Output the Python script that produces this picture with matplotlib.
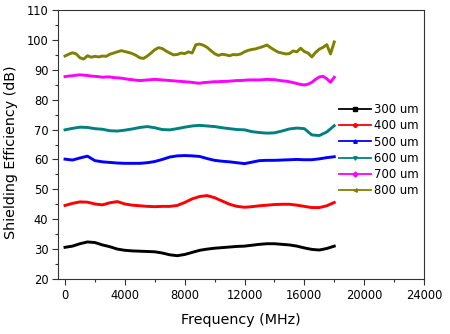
import matplotlib
matplotlib.use("Agg")
import matplotlib.pyplot as plt
from matplotlib.lines import Line2D
from matplotlib.ticker import MultipleLocator

freq = [i * 500 for i in range(37)]
freq_fine = [i * 250 for i in range(73)]

se_300 = [30.6, 31.0, 31.8, 32.4, 32.2, 31.4, 30.8, 30.0, 29.6, 29.4, 29.3, 29.2, 29.1,
          28.7, 28.1, 27.8, 28.2, 28.9, 29.6, 30.0, 30.3, 30.5, 30.7, 30.9, 31.0, 31.3,
          31.6, 31.8, 31.8, 31.6, 31.4, 31.0, 30.4, 29.9, 29.7, 30.2, 31.0]
se_400 = [44.6, 45.3, 45.8, 45.7, 45.1, 44.8, 45.5, 45.9, 45.1, 44.7, 44.5, 44.3, 44.2,
          44.3, 44.3, 44.6, 45.6, 46.8, 47.6, 47.9, 47.2, 46.1, 45.0, 44.3, 44.0, 44.2,
          44.5, 44.7, 44.9, 45.0, 45.0, 44.7, 44.3, 43.9, 43.9, 44.5, 45.6]
se_500 = [60.1, 59.8, 60.5, 61.1, 59.6, 59.2, 59.0, 58.8, 58.7, 58.7, 58.7, 58.9, 59.3,
          60.0, 60.8, 61.2, 61.3, 61.2, 61.0, 60.3, 59.7, 59.4, 59.2, 58.9, 58.6, 59.1,
          59.6, 59.7, 59.7, 59.8, 59.9, 60.0, 59.9, 59.9, 60.2, 60.6, 60.9]
se_600 = [69.9, 70.4, 70.8, 70.7, 70.3, 70.1, 69.6, 69.5, 69.8, 70.2, 70.7, 71.0, 70.6,
          70.0, 69.9, 70.3, 70.8, 71.2, 71.4, 71.2, 71.0, 70.6, 70.3, 70.0, 69.9, 69.3,
          69.0, 68.8, 68.9, 69.5, 70.2, 70.5, 70.3, 68.2, 68.0, 69.2, 71.3]
se_700 = [87.7, 87.9, 88.0, 88.2, 88.3, 88.2, 88.1, 87.9, 87.8, 87.7, 87.5, 87.6, 87.6,
          87.4, 87.3, 87.2, 87.0, 86.8, 86.7, 86.5, 86.4, 86.5, 86.6, 86.7, 86.8, 86.7,
          86.6, 86.5, 86.4, 86.3, 86.2, 86.1, 86.0, 85.9, 85.8, 85.6, 85.5, 85.7, 85.8,
          85.9, 86.0, 86.0, 86.1, 86.1, 86.2, 86.3, 86.4, 86.4, 86.5, 86.6, 86.6, 86.6,
          86.6, 86.7, 86.8, 86.7, 86.7, 86.5, 86.3, 86.2, 86.0, 85.7, 85.4, 85.1, 84.9,
          85.2, 85.8, 86.8, 87.6, 87.8, 87.0, 85.8, 87.5]
se_800 = [94.6, 95.2, 95.7, 95.3, 94.0, 93.6, 94.7, 94.2, 94.5, 94.3, 94.6, 94.5, 95.2,
          95.6, 96.0, 96.4, 96.1, 95.8, 95.4, 94.8, 94.0, 93.8, 94.6, 95.6, 96.7, 97.4,
          97.1, 96.3, 95.6, 95.0, 95.1, 95.6, 95.4, 96.0, 95.6, 98.4, 98.6, 98.2, 97.5,
          96.4, 95.4, 94.8, 95.2, 95.0, 94.7, 95.1, 95.0, 95.3, 96.0, 96.5, 96.8, 97.0,
          97.4, 97.8, 98.3, 97.4, 96.6, 95.9, 95.6, 95.3, 95.4, 96.3, 96.0, 97.2, 96.1,
          95.6, 94.3, 95.8, 96.9, 97.5, 98.4, 95.3, 99.3]

labels = ["300 um", "400 um", "500 um", "600 um", "700 um", "800 um"]
colors = ["#000000", "#FF0000", "#0000FF", "#008080", "#FF00FF", "#808000"]
markers = ["s", "o", "^", "v", "D", "<"]

x_ticks = [0, 4000, 8000, 12000, 16000, 20000, 24000]
y_ticks = [20, 30, 40, 50, 60, 70, 80, 90, 100, 110]

plt.rcParams['font.family'] = ['DejaVu Sans']

fig = plt.figure(figsize=(4.5, 3.34), dpi=100)
ax = fig.add_axes([58 / 450, 1 - 279 / 334, (424 - 58) / 450, (279 - 10) / 334])

series = [(freq, se_300), (freq, se_400), (freq, se_500), (freq, se_600),
          (freq_fine, se_700), (freq_fine, se_800)]
for (fx, fy), c in zip(series, colors):
    ax.plot(fx, fy, color=c, lw=2.1, solid_joinstyle='round')

ax.set_xlim(-470, 24000)
ax.set_ylim(20, 110)
ax.set_xticks(x_ticks)
ax.set_yticks(y_ticks)
ax.xaxis.set_minor_locator(MultipleLocator(2000))
ax.yaxis.set_minor_locator(MultipleLocator(5))
ax.tick_params(which='both', direction='out', top=False, right=False, labelsize=8.3,
               width=0.8, color='#333333')
ax.tick_params(which='major', length=4, pad=3)
ax.tick_params(which='minor', length=2.5)
for s in ax.spines.values():
    s.set_linewidth(0.8)
    s.set_color('#333333')

ax.set_xlabel("Frequency (MHz)", fontsize=10.3)
ax.set_ylabel("Shielding Efficiency (dB)", fontsize=10.3)
ax.xaxis.set_label_coords(0.5, -0.125)
ax.yaxis.set_label_coords(-0.108, 0.47)

handles = [Line2D([0], [0], color=c, lw=1.3, marker=m, markersize=2.5)
           for c, m in zip(colors, markers)]
ax.legend(handles, labels, loc='upper left', bbox_to_anchor=((339 - 58) / 366, 1 - (103 - 10) / 269),
          frameon=False, fontsize=8.4, handlelength=2.7, handletextpad=0.3,
          labelspacing=0.28, borderpad=0, borderaxespad=0)

fig.savefig("out.png", dpi=100)
